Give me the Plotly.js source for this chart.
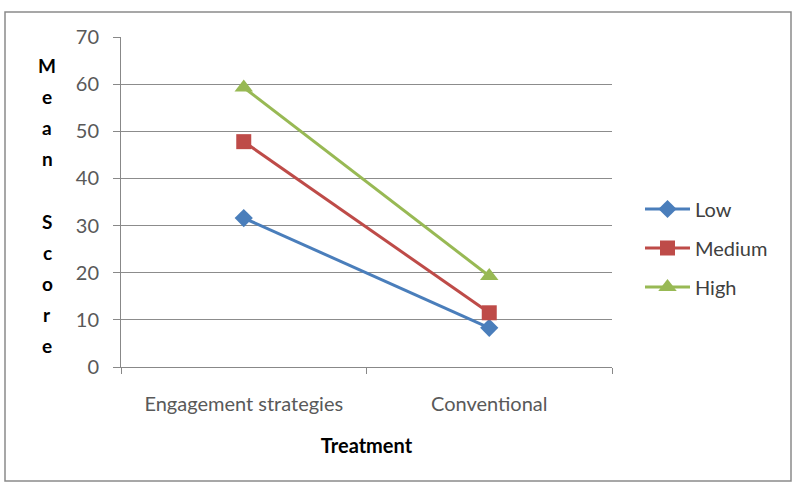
<!DOCTYPE html>
<html>
<head>
<meta charset="utf-8">
<script src="https://cdn.plot.ly/plotly-3.0.1.min.js"></script>
<style>html,body{margin:0;padding:0;background:#fff;}#chart{width:798px;height:483px;}</style>
</head>
<body>
<div id="chart"></div>
<script>
const categories = ["Engagement strategies", "Conventional"];
const lowValues = [31.6, 8.3];
const mediumValues = [47.8, 11.5];
const highValues = [59.3, 19.3];
const seriesNames = ["Low", "Medium", "High"];
const yTickValues = [0, 10, 20, 30, 40, 50, 60, 70];
const yTitleText = "Mean Score";
const xTitleText = "Treatment";

const FONT = "Lato, 'Open Sans', sans-serif";
const W = 798, H = 483;
const M = {l: 121, r: 186, t: 37, b: 116};
const pw = W - M.l - M.r, ph = H - M.t - M.b;
const px2x = x => (x - M.l) / pw;
const px2y = y => (H - M.b - y) / ph;

const colors = ["#4A7EBB", "#BE4B48", "#98B954"];
const symbols = ["diamond", "square", "triangle-up"];
const sizes = [14, 15, 16];
const vals = [lowValues, mediumValues, highValues];

const traces = vals.map((v, i) => ({
  type: "scatter", mode: "lines+markers",
  x: categories, y: v, name: seriesNames[i],
  legendgroup: "g" + i,
  line: {color: colors[i], width: 3},
  marker: {symbol: symbols[i], size: sizes[i], color: colors[i]}
}));

const annotations = [];
const letters = yTitleText.split("");
letters.forEach((ch, i) => {
  if (ch === " ") return;
  annotations.push({
    xref: "paper", yref: "paper", x: px2x(47), y: px2y(65 + i * 31.2),
    xanchor: "center", yanchor: "middle", showarrow: false,
    text: ch, font: {family: FONT, size: 19, color: "#000", weight: "bold"}
  });
});

const layout = {
  width: W, height: H,
  margin: M,
  paper_bgcolor: "#fff", plot_bgcolor: "#fff",
  showlegend: true,
  font: {family: FONT, color: "#595959", size: 20},
  xaxis: {
    type: "category", range: [-0.5, 1.5],
    showgrid: false, showline: true, linecolor: "#888", linewidth: 1,
    ticks: "outside", tickson: "boundaries", ticklen: 6, tickcolor: "#888",
    tickfont: {family: FONT, size: 20, color: "#595959"},
    ticklabelstandoff: 19,
    title: {text: xTitleText, font: {family: FONT, size: 20, color: "#000", weight: "bold"}, standoff: 24},
    fixedrange: true, zeroline: false
  },
  yaxis: {
    range: [0, 70], tickvals: yTickValues,
    showgrid: true, gridcolor: "#8c8c8c", gridwidth: 1,
    showline: true, linecolor: "#888", linewidth: 1,
    ticks: "outside", ticklen: 7, tickcolor: "#888",
    tickfont: {family: FONT, size: 20, color: "#595959"},
    ticklabelstandoff: 10,
    zeroline: false, fixedrange: true
  },
  legend: {
    x: px2x(640), y: px2y(248), xanchor: "left", yanchor: "middle",
    traceorder: "grouped", tracegroupgap: 10,
    itemwidth: 45,
    font: {family: FONT, size: 20, color: "#404040"},
    bgcolor: "rgba(0,0,0,0)"
  },
  annotations: annotations,
  shapes: [{
    type: "rect", xref: "paper", yref: "paper",
    x0: px2x(5), x1: px2x(791), y0: px2y(481), y1: px2y(12),
    line: {color: "#8a8a8a", width: 1.5}, fillcolor: "rgba(0,0,0,0)", layer: "below"
  }]
};

Plotly.newPlot("chart", traces, layout, {displayModeBar: false, staticPlot: true});
</script>
</body>
</html>
